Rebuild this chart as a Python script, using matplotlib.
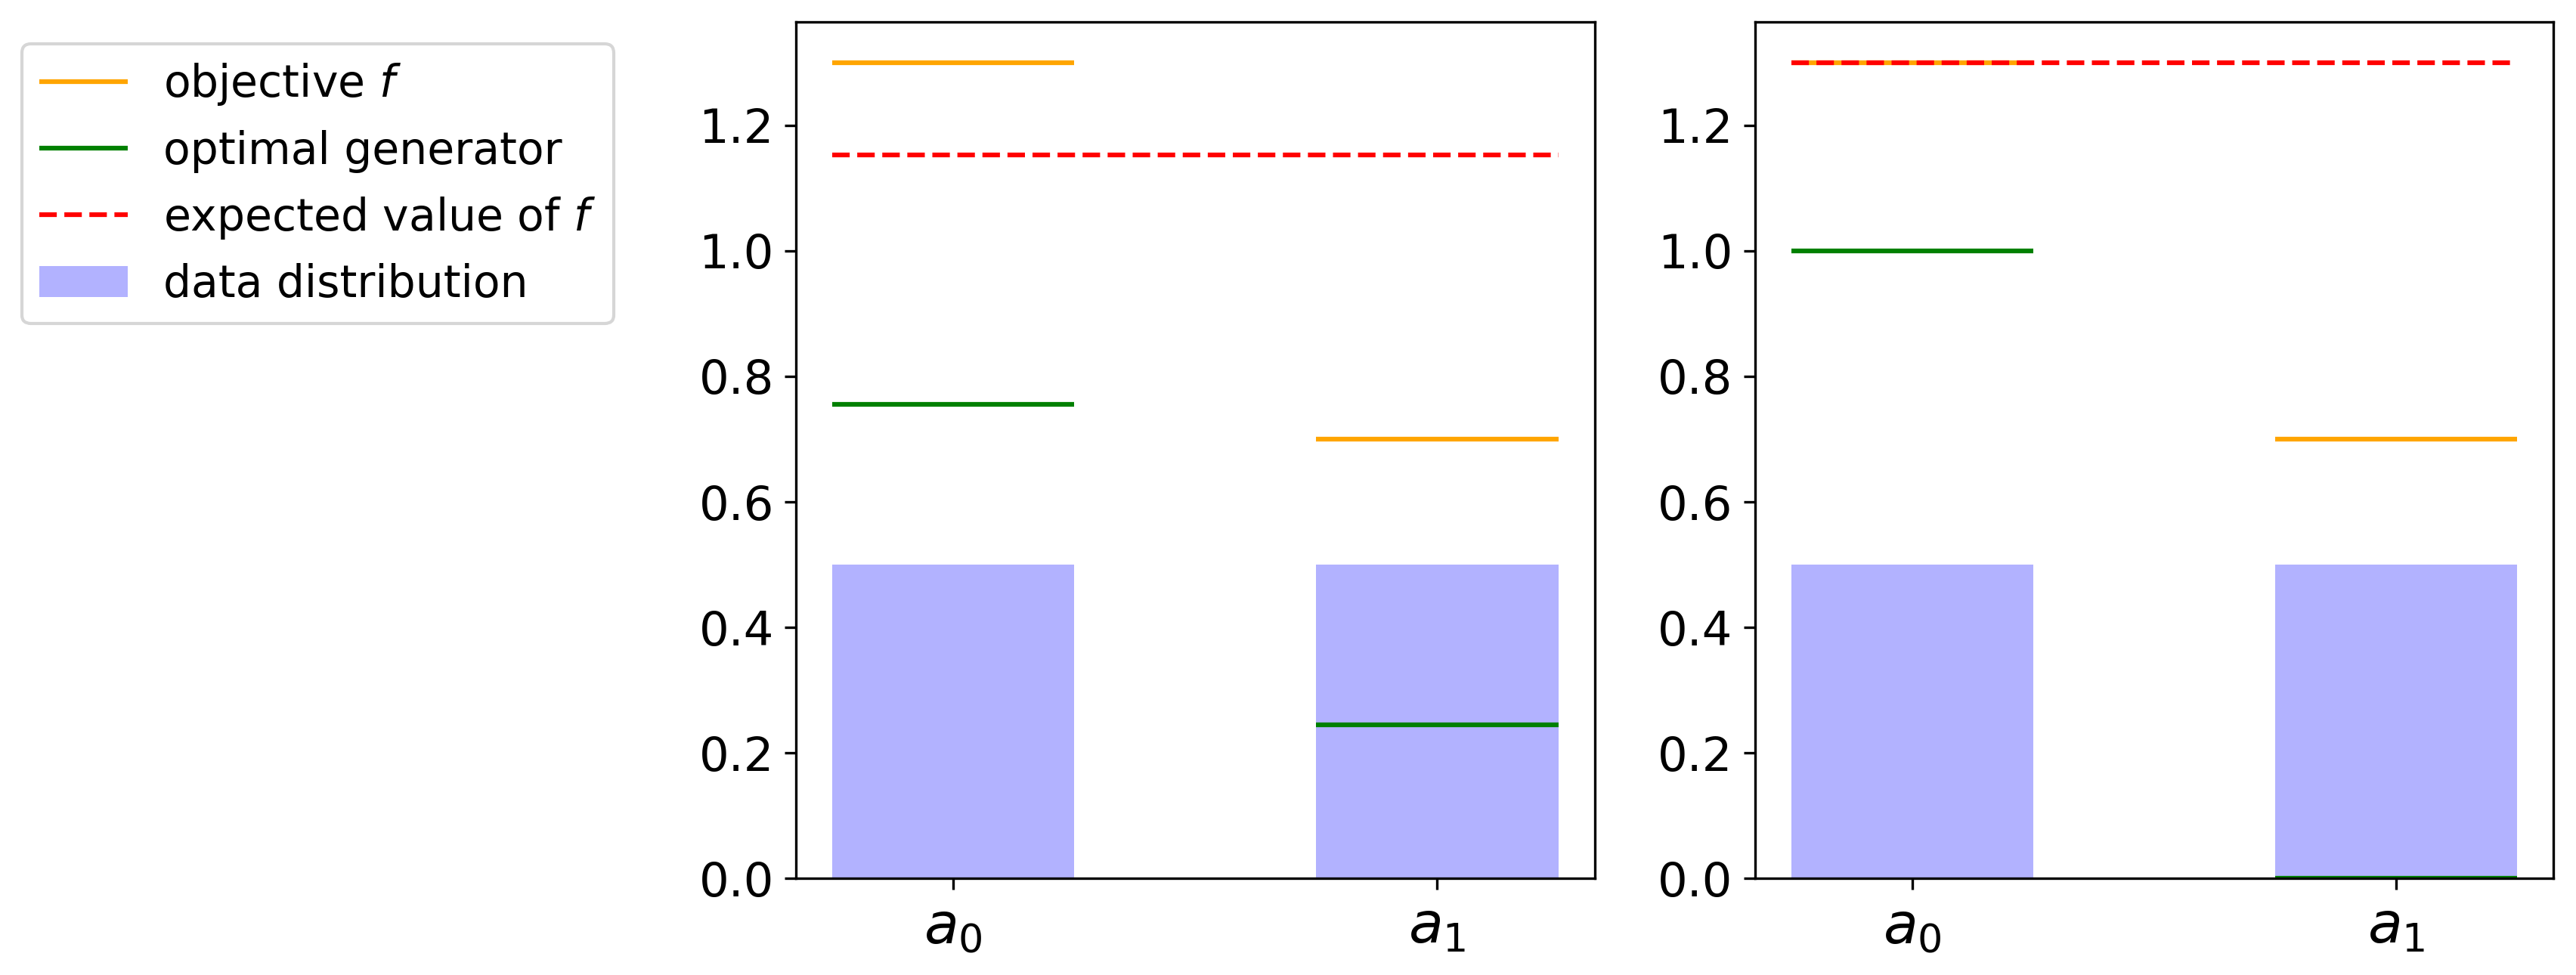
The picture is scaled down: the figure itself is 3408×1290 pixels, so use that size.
import numpy as np
import matplotlib
matplotlib.use("Agg")
import matplotlib.pyplot as plt

# two outcomes a_0, a_1
categories = [r"$a_0$", r"$a_1$"]
data_dist = [0.5, 0.5]
objective = [1.3, 0.7]

# left: regularised generator, right: pure maximiser
generator_left = [0.755, 0.245]
generator_right = [1.0, 0.0]


def draw_panel(ax, generator):
    x = np.arange(len(categories))
    half = 0.25
    ax.bar(x, data_dist, width=0.5, color="blue", alpha=0.3, label="data distribution")
    ax.hlines(objective, x - half, x + half, colors="orange", linewidth=1.5, label="objective $f$")
    ax.hlines(generator, x - half, x + half, colors="green", linewidth=1.5, label="optimal generator")
    expected = float(np.dot(generator, objective))
    ax.plot([x[0] - half, x[-1] + half], [expected, expected], "r--", linewidth=1.5,
            label="expected value of $f$")
    ax.set_xticks(x)
    ax.set_xticklabels(categories, fontsize=18)
    ax.tick_params(axis="y", labelsize=15)
    ax.set_ylim(bottom=0)


fig = plt.figure(figsize=(11.36, 4.3), dpi=300)
ax1 = fig.add_axes([0.309, 0.0992, 0.310, 0.8783])
ax2 = fig.add_axes([0.6813, 0.0992, 0.310, 0.8783])

draw_panel(ax1, generator_left)
draw_panel(ax2, generator_right)

handles, labels = ax1.get_legend_handles_labels()
order = [labels.index(l) for l in ["objective $f$", "optimal generator",
                                   "expected value of $f$", "data distribution"]]
fig.legend([handles[i] for i in order], [labels[i] for i in order],
           loc="upper left", bbox_to_anchor=(0.0085, 0.955), borderaxespad=0, fontsize=14)

fig.savefig("out.png", dpi=300)
